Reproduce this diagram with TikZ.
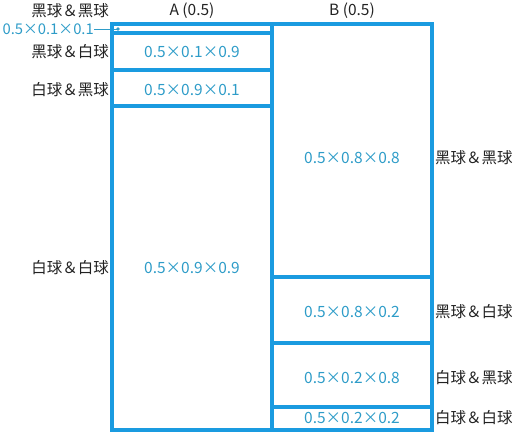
\documentclass[tikz,border=0pt]{standalone}
\usepackage{fontspec}
\setmainfont{Noto Sans CJK SC}
\definecolor{boxblue}{HTML}{1A9BE0}
\definecolor{numblue}{HTML}{2E9CC8}
\definecolor{labgray}{HTML}{222222}

\begin{document}
\begin{tikzpicture}[x=1pt, y=-1pt,
  cell/.style={boxblue, line width=3.5pt},
  prob/.style={text=numblue, font=\fontsize{15.5}{17}\selectfont, inner sep=0pt},
  lab/.style={text=labgray, font=\fontsize{15.5}{17}\selectfont, inner sep=0pt}]
\useasboundingbox (0,0) rectangle (515,432);

% tiny cell and its pointer
\coordinate (dot) at (118,29);
\node[prob, anchor=east, font=\fontsize{14.8}{17}\selectfont] (pbb) at (94,29){0.5×0.1×0.1};
\draw[numblue, line width=0.8pt] (pbb.east) -- (dot);
\fill[numblue] (dot) circle (1.8);

% box
\draw[cell] (112,24) rectangle (432,430);
\draw[cell] (272,24) -- (272,430);
\draw[cell] (112,33) -- (272,33);\draw[cell] (112,70) -- (272,70);\draw[cell] (112,106) -- (272,106);
\draw[cell] (272,277) -- (432,277);\draw[cell] (272,343) -- (432,343);\draw[cell] (272,407) -- (432,407);

% headers
\node[lab] (urnA) at (192,11){A\ (0.5)};
\node[lab] (urnB) at (352,11){B\ (0.5)};

% A side
\node[lab, anchor=east] (abb) at (109,11){黑球＆黑球};
\node[lab, anchor=east] (abw) at (109,52){黑球＆白球};\node[prob] (pbw) at (192,52){0.5×0.1×0.9};
\node[lab, anchor=east] (awb) at (109,90){白球＆黑球};\node[prob] (pwb) at (192,90){0.5×0.9×0.1};
\node[lab, anchor=east] (aww) at (109,268){白球＆白球};\node[prob] (pww) at (192,268){0.5×0.9×0.9};

% B side
\node[lab, anchor=west] (bbb) at (435,158){黑球＆黑球};\node[prob] (qbb) at (352,158){0.5×0.8×0.8};
\node[lab, anchor=west] (bbw) at (435,312){黑球＆白球};\node[prob] (qbw) at (352,312){0.5×0.8×0.2};
\node[lab, anchor=west] (bwb) at (435,378){白球＆黑球};\node[prob] (qwb) at (352,378){0.5×0.2×0.8};
\node[lab, anchor=west] (bww) at (435,418){白球＆白球};\node[prob] (qww) at (352,418){0.5×0.2×0.2};
\end{tikzpicture}
\end{document}
